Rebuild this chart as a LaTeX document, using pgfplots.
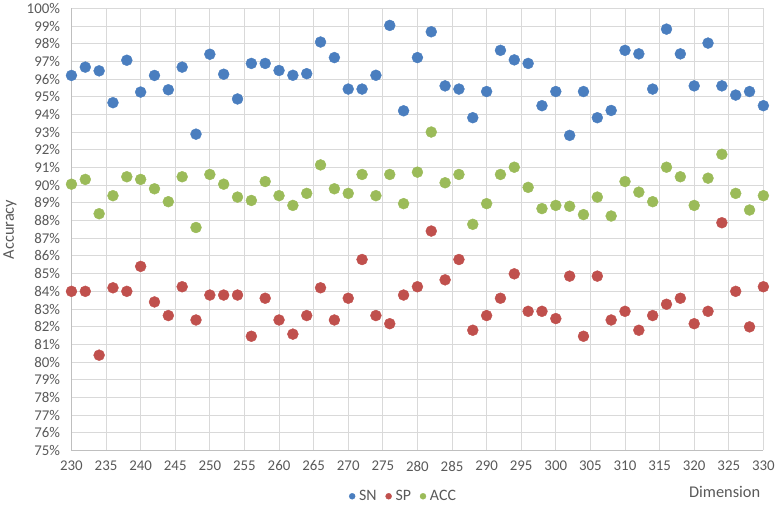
\documentclass[border=0pt]{standalone}
\usepackage{pgfplots}
\pgfplotsset{compat=1.18}
\usepackage{fontspec}
\setmainfont{Carlito}
\definecolor{snc}{HTML}{4A7EBF}
\definecolor{spc}{HTML}{C0504D}
\definecolor{accc}{HTML}{9BBB59}
\definecolor{txt}{HTML}{595959}
\definecolor{gridc}{HTML}{D9D9D9}
\definecolor{axc}{HTML}{BFBFBF}
\begin{document}
\begin{tikzpicture}
\begin{axis}[
  scale only axis, width=695bp, height=444bp,
  xmin=230, xmax=330, ymin=75, ymax=100,
  xtick={230,235,...,330},
  xticklabels={230,235,240,245,250,255,260,265,270,275,280,285,290,295,300,305,310,315,320,325,330},
  ytick={75,76,...,100},
  yticklabels={75\%,76\%,77\%,78\%,79\%,80\%,81\%,82\%,83\%,84\%,85\%,86\%,87\%,88\%,89\%,90\%,91\%,92\%,93\%,94\%,95\%,96\%,97\%,98\%,99\%,100\%},
  major tick length=0pt,
  grid=major,
  grid style={gridc, line width=1bp},
  axis x line*=bottom, axis y line*=left,
  axis line style={axc, line width=1bp, -},
  tick label style={font=\fontsize{15}{17}\selectfont, text=txt},
  xticklabel style={yshift=-7bp},
  yticklabel style={xshift=-8bp},
  ylabel={Accuracy},
  ylabel style={at={(-0.089,0.5)}, anchor=center, font=\fontsize{16.5}{18}\selectfont, text=txt},
  xlabel={Dimension},
  xlabel style={at={(0.944,-0.0946)}, anchor=center, font=\fontsize{16.5}{18}\selectfont, text=txt},
  legend columns=3,
  legend style={draw=none, fill=none, at={(0.48,-0.1036)}, anchor=center,
    font=\fontsize{16}{18}\selectfont, text=txt,
    /tikz/every odd column/.append style={column sep=2bp},
    /tikz/every even column/.append style={column sep=7bp}},
  legend image code/.code={\draw[#1, mark size=3bp] plot coordinates {(0.12cm,0cm)};},
  every axis plot/.append style={only marks, mark=*, mark size=5.5bp},
]
\addplot[snc, mark options={draw=snc, fill=snc}] coordinates {
(230,96.21)(232,96.68)(234,96.47)(236,94.67)(238,97.07)(240,95.27)(242,96.21)(244,95.40)(246,96.68)(248,92.89)
(250,97.41)(252,96.28)(254,94.88)(256,96.89)(258,96.89)(260,96.49)(262,96.22)(264,96.31)(266,98.10)(268,97.22)
(270,95.44)(272,95.44)(274,96.22)(276,99.04)(278,94.21)(280,97.22)(282,98.68)(284,95.62)(286,95.44)(288,93.82)
(290,95.30)(292,97.63)(294,97.09)(296,96.89)(298,94.50)(300,95.30)(302,92.82)(304,95.30)(306,93.82)(308,94.23)
(310,97.63)(312,97.43)(314,95.44)(316,98.83)(318,97.43)(320,95.62)(322,98.04)(324,95.62)(326,95.10)(328,95.30)
(330,94.50)};
\addlegendentry{SN}
\addplot[spc, mark options={draw=spc, fill=spc}] coordinates {
(230,84.00)(232,84.00)(234,80.39)(236,84.20)(238,84.00)(240,85.41)(242,83.40)(244,82.63)(246,84.26)(248,82.38)
(250,83.79)(252,83.79)(254,83.79)(256,81.46)(258,83.61)(260,82.38)(262,81.58)(264,82.63)(266,84.20)(268,82.38)
(270,83.61)(272,85.80)(274,82.63)(276,82.17)(278,83.79)(280,84.26)(282,87.41)(284,84.65)(286,85.80)(288,81.80)
(290,82.63)(292,83.61)(294,84.99)(296,82.87)(298,82.87)(300,82.46)(302,84.86)(304,81.46)(306,84.86)(308,82.38)
(310,82.87)(312,81.80)(314,82.63)(316,83.27)(318,83.61)(320,82.17)(322,82.87)(324,87.88)(326,84.00)(328,81.99)
(330,84.26)};
\addlegendentry{SP}
\addplot[accc, mark options={draw=accc, fill=accc}] coordinates {
(230,90.06)(232,90.33)(234,88.39)(236,89.41)(238,90.48)(240,90.33)(242,89.80)(244,89.07)(246,90.48)(248,87.61)
(250,90.61)(252,90.06)(254,89.33)(256,89.14)(258,90.21)(260,89.41)(262,88.86)(264,89.54)(266,91.15)(268,89.80)
(270,89.54)(272,90.61)(274,89.41)(276,90.61)(278,88.96)(280,90.74)(282,93.01)(284,90.14)(286,90.61)(288,87.79)
(290,88.96)(292,90.61)(294,91.02)(296,89.88)(298,88.68)(300,88.86)(302,88.81)(304,88.34)(306,89.33)(308,88.26)
(310,90.21)(312,89.61)(314,89.07)(316,91.02)(318,90.48)(320,88.86)(322,90.40)(324,91.75)(326,89.54)(328,88.60)
(330,89.41)};
\addlegendentry{ACC}
\coordinate (o) at (rel axis cs:0,0);
\end{axis}
\path (o) ++(-70bp,-54bp) rectangle ++(778bp,505bp);
\end{tikzpicture}
\end{document}
